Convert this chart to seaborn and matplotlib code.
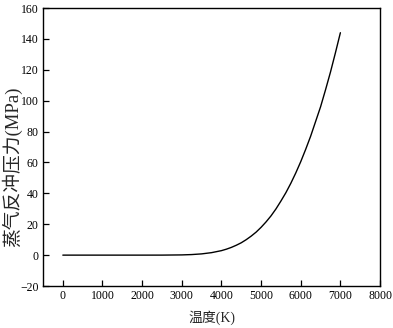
import seaborn as sns
import matplotlib.pyplot as plt
import pandas as pd

# temperature (K) and recoil pressure (MPa)
temperatura = [0, 500, 1000, 1500, 2000, 2500, 3000, 3250, 3500, 3750, 4000, 4125,
               4250, 4375, 4500, 4625, 4750, 4875, 5000, 5125, 5250, 5375, 5500,
               5625, 5750, 5875, 6000, 6125, 6250, 6375, 6500, 6625, 6750, 6875, 7000]
presion = [0, 0, 0, 0, 0, 0.01, 0.14, 0.36, 0.8, 1.6, 2.9, 3.85,
           5.0, 6.4, 8.0, 10.0, 12.3, 14.9, 18, 21.5, 25.4, 29.9, 35,
           40.4, 46.5, 53.2, 60.5, 68.5, 77, 86.5, 96, 107, 118.5, 131, 144]

x_ticks = [0, 1000, 2000, 3000, 4000, 5000, 6000, 7000, 8000]
y_ticks = [-20, 0, 20, 40, 60, 80, 100, 120, 140, 160]

sns.set_style('ticks')
plt.rcParams['font.family'] = ['Liberation Serif', 'Noto Sans CJK SC']
plt.rcParams['xtick.direction'] = 'in'
plt.rcParams['ytick.direction'] = 'in'

datos = pd.DataFrame({'T': temperatura, 'P': presion})

fig = plt.figure(figsize=(3.93, 3.28), dpi=100)
ax = fig.add_axes([0.1094, 0.128, 0.8576, 0.8476])
sns.lineplot(data=datos, x='T', y='P', color='black', linewidth=1.0, ax=ax)

ax.set_xlim(-500, 8000)
ax.set_ylim(-20, 160)
ax.set_xticks(x_ticks)
ax.set_yticks(y_ticks)
ax.tick_params(labelsize=8.5, length=4, width=0.9, colors='black', pad=3)
ax.tick_params(axis='x', top=False)
ax.tick_params(axis='y', right=False)
for s in ax.spines.values():
    s.set_linewidth(1.0)
    s.set_color('black')

ax.set_xlabel('温度(K)', fontsize=10, fontweight='light', labelpad=6)
ax.set_ylabel('蒸气反冲压力(MPa)', fontsize=13.5, fontweight='light')
ax.yaxis.set_label_coords(-0.062, 0.43)

plt.savefig('out.png', dpi=100)
